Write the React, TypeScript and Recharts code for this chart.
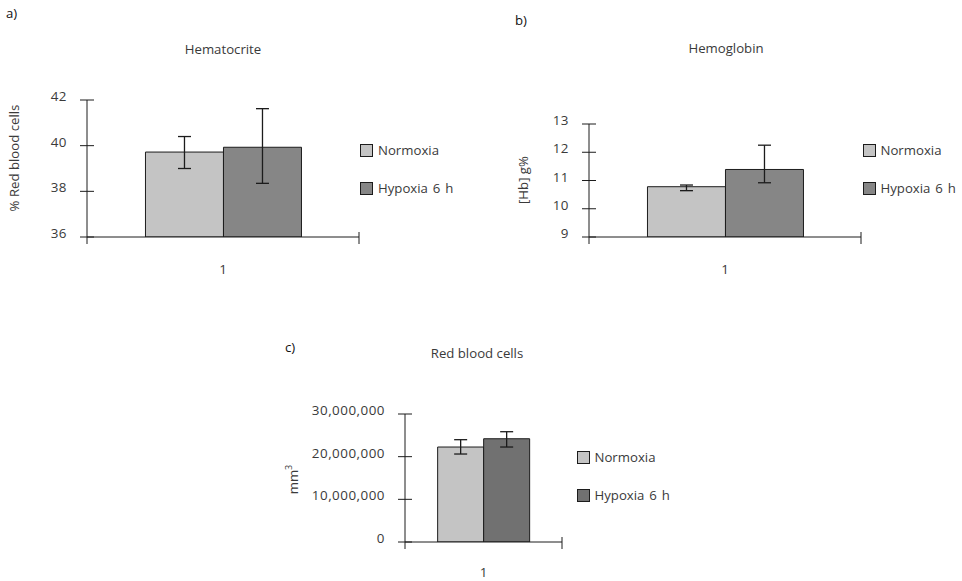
import React from 'react';
import { BarChart, Bar, XAxis, YAxis, ErrorBar, Legend } from 'recharts';

const FONT = '"Open Sans", "Noto Sans", sans-serif';
const TEXT = '#3a3a3a';
const INK = '#1c1c1c';

// ---- data ----
const categories = ['1'];
const seriesNames = ['Normoxia', 'Hypoxia 6 h'];

const hematocritNormoxia = [39.72];
const hematocritNormoxiaErr = [[0.72, 0.68]];
const hematocritHypoxia = [39.93];
const hematocritHypoxiaErr = [[1.58, 1.69]];
const hematocritTicks = [36, 38, 40, 42];

const hemoglobinNormoxia = [10.78];
const hemoglobinNormoxiaErr = [[0.14, 0.06]];
const hemoglobinHypoxia = [11.39];
const hemoglobinHypoxiaErr = [[0.47, 0.86]];
const hemoglobinTicks = [9, 10, 11, 12, 13];

const rbcNormoxia = [22260000];
const rbcNormoxiaErr = [[1640000, 1720000]];
const rbcHypoxia = [24200000];
const rbcHypoxiaErr = [[1940000, 1650000]];
const rbcTicks = [0, 10000000, 20000000, 30000000];

const YTick = (p: any) => {
  const { x, y, payload, gap, fmt } = p;
  const ax = x + gap;
  return (
    <g>
      <line x1={ax - 7} x2={ax + 7} y1={y} y2={y} stroke={INK} strokeWidth={1} />
      <text x={x} y={y + 1} textAnchor="end" fill={TEXT} fontSize={13.4} letterSpacing={0.5} fontFamily={FONT}>
        {fmt ? fmt(payload.value) : payload.value}
      </text>
    </g>
  );
};

const XTick = (p: any) => {
  const { x, y, payload, half, off } = p;
  return (
    <g>
      <line x1={x - half} x2={x - half} y1={y} y2={y + 7} stroke={INK} strokeWidth={1} />
      <line x1={x + half} x2={x + half} y1={y - 5} y2={y + 7} stroke={INK} strokeWidth={1} />
      <text x={x} y={y + off} textAnchor="middle" fill={TEXT} fontSize={13.4} fontFamily={FONT}>
        {payload.value}
      </text>
    </g>
  );
};

const YLabel = (p: any) => {
  const { viewBox, bx, dy, text, sup } = p;
  const cx = viewBox.x + bx;
  const cy = viewBox.y + viewBox.height / 2 + dy;
  return (
    <text
      x={cx}
      y={cy}
      textAnchor="middle"
      fill={TEXT}
      fontSize={13.2}
      fontFamily={FONT}
      transform={`rotate(-90 ${cx} ${cy})`}
    >
      {text}
      {sup ? (
        <tspan fontSize={9} dy={-6}>
          {sup}
        </tspan>
      ) : null}
    </text>
  );
};

const LegendBox = ({ colors, gap }: any) => (
  <div style={{ fontFamily: FONT, fontSize: 13.2, color: TEXT }}>
    {seriesNames.map((n, i) => (
      <div
        key={n}
        style={{
          display: 'flex',
          alignItems: 'center',
          height: 13,
          marginBottom: i < seriesNames.length - 1 ? gap - 13 : 0,
          whiteSpace: 'nowrap',
        }}
      >
        <span
          style={{
            display: 'inline-block',
            width: 13,
            height: 13,
            boxSizing: 'border-box',
            background: colors[i],
            border: `1px solid ${INK}`,
          }}
        />
        <span style={{ marginLeft: 5, lineHeight: '13px', wordSpacing: 1.5 }}>{n}</span>
      </div>
    ))}
  </div>
);

function Panel(p: any) {
  const plotW = p.width - p.marginRight - p.yAxisWidth;
  const rows = categories.map((c, i) => ({
    cat: c,
    normoxia: p.normoxia[i],
    normoxiaErr: p.normoxiaErr[i],
    hypoxia: p.hypoxia[i],
    hypoxiaErr: p.hypoxiaErr[i],
  }));
  const TM = 20;
  return (
    <div style={{ position: 'absolute', left: p.left, top: p.top }}>
      <BarChart
        width={p.width}
        height={p.height}
        data={rows}
        margin={{ top: p.marginTop, right: p.marginRight, bottom: 0, left: 0 }}
        barCategoryGap={p.gap}
        barGap={0}
      >
        <XAxis
          dataKey="cat"
          height={p.xAxisHeight}
          tickSize={0}
          tickMargin={0}
          tickLine={false}
          interval={0}
          axisLine={{ stroke: INK, strokeWidth: 1 }}
          tick={(t: any) => <XTick {...t} half={plotW / 2} off={p.catOffset} />}
        />
        <YAxis
          type="number"
          width={p.yAxisWidth}
          domain={p.domain}
          ticks={p.ticks}
          interval={0}
          allowDataOverflow
          tickSize={0}
          tickMargin={TM}
          tickLine={false}
          axisLine={{ stroke: INK, strokeWidth: 1 }}
          tick={(t: any) => <YTick {...t} gap={TM} fmt={p.fmt} />}
          label={{
            content: (l: any) => <YLabel {...l} bx={p.labelX} dy={p.labelDy} text={p.yLabel} sup={p.yLabelSup} />,
          }}
        />
        <Bar dataKey="normoxia" name={seriesNames[0]} fill={p.colors[0]} stroke={INK} strokeWidth={1} isAnimationActive={false}>
          <ErrorBar dataKey="normoxiaErr" width={6.5} stroke={INK} strokeWidth={1.3} direction="y" isAnimationActive={false} />
        </Bar>
        <Bar dataKey="hypoxia" name={seriesNames[1]} fill={p.colors[1]} stroke={INK} strokeWidth={1} isAnimationActive={false}>
          <ErrorBar dataKey="hypoxiaErr" width={6.5} stroke={INK} strokeWidth={1.3} direction="y" isAnimationActive={false} />
        </Bar>
        <Legend
          layout="vertical"
          align="center"
          verticalAlign="middle"
          wrapperStyle={{ left: p.legendLeft, top: p.legendTop, width: 'auto', height: 'auto' }}
          content={() => <LegendBox colors={p.colors} gap={p.legendGap} />}
        />
      </BarChart>
    </div>
  );
}

const Caption = ({ x, y, w, text, color, align }: any) => (
  <div
    style={{
      position: 'absolute',
      left: align === 'left' ? x : x - w / 2,
      top: y - 8.4,
      width: w,
      textAlign: align === 'left' ? 'left' : 'center',
      fontFamily: FONT,
      fontSize: 13.2,
      lineHeight: '16px',
      color: color || TEXT,
      whiteSpace: 'nowrap',
    }}
  >
    {text}
  </div>
);

const fmtThousands = (v: number) => v.toLocaleString('en-US');

export default function App() {
  return (
    <div style={{ position: 'absolute', left: 0, top: 0, width: 962, height: 581, background: '#fff', overflow: 'hidden' }}>
      <Caption x={6} y={13} w={30} text="a)" color="#111" align="left" />
      <Caption x={223} y={49} w={200} text="Hematocrite" />
      <Caption x={515} y={20} w={30} text="b)" color="#111" align="left" />
      <Caption x={726} y={48.5} w={200} text="Hemoglobin" />
      <Caption x={285} y={347} w={30} text="c)" color="#111" align="left" />
      <Caption x={477} y={353.5} w={200} text="Red blood cells" />

      <Panel
        left={0}
        top={0}
        width={480}
        height={290}
        marginTop={100}
        marginRight={121}
        yAxisWidth={87}
        xAxisHeight={53}
        catOffset={37}
        gap="21.5%"
        domain={[36, 42]}
        ticks={hematocritTicks}
        normoxia={hematocritNormoxia}
        normoxiaErr={hematocritNormoxiaErr}
        hypoxia={hematocritHypoxia}
        hypoxiaErr={hematocritHypoxiaErr}
        colors={['#c4c4c4', '#868686']}
        legendLeft={360}
        legendTop={143.5}
        legendGap={38.5}
        yLabel="% Red blood cells"
        labelX={18.5}
        labelDy={-10.5}
      />
      <Panel
        left={480}
        top={0}
        width={482}
        height={290}
        marginTop={124}
        marginRight={101}
        yAxisWidth={109}
        xAxisHeight={53}
        catOffset={37}
        gap="21.5%"
        domain={[9, 13]}
        ticks={hemoglobinTicks}
        normoxia={hemoglobinNormoxia}
        normoxiaErr={hemoglobinNormoxiaErr}
        hypoxia={hemoglobinHypoxia}
        hypoxiaErr={hemoglobinHypoxiaErr}
        colors={['#c4c4c4', '#868686']}
        legendLeft={382.5}
        legendTop={143.5}
        legendGap={38.5}
        yLabel="[Hb] g%"
        labelX={47.8}
        labelDy={-0.5}
      />
      <Panel
        left={260}
        top={330}
        width={420}
        height={251}
        marginTop={84}
        marginRight={118}
        yAxisWidth={145}
        xAxisHeight={39}
        catOffset={35}
        gap="20.8%"
        domain={[0, 30000000]}
        ticks={rbcTicks}
        fmt={fmtThousands}
        normoxia={rbcNormoxia}
        normoxiaErr={rbcNormoxiaErr}
        hypoxia={rbcHypoxia}
        hypoxiaErr={rbcHypoxiaErr}
        colors={['#c4c4c4', '#717171']}
        legendLeft={316.5}
        legendTop={120.5}
        legendGap={38.3}
        yLabel="mm"
        yLabelSup="3"
        labelX={37.5}
        labelDy={1.5}
      />
    </div>
  );
}
